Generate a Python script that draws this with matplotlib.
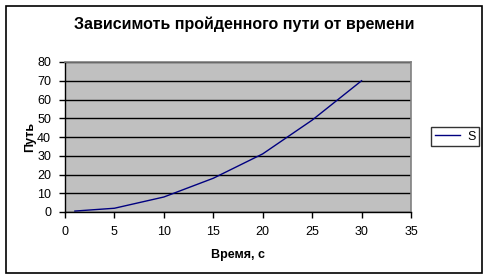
import matplotlib
matplotlib.use("Agg")
import matplotlib.pyplot as plt
from matplotlib.patches import Rectangle

plt.rcParams['font.family'] = ['Liberation Sans', 'DejaVu Sans']

# Time (s) and travelled distance
time_s = [1, 5, 10, 15, 20, 25, 30]
path_s = [0.5, 2, 8, 18, 31, 49, 70]
x_ticks = [0, 5, 10, 15, 20, 25, 30, 35]
y_ticks = [0, 10, 20, 30, 40, 50, 60, 70, 80]

W, H = 489, 279
fig = plt.figure(figsize=(W / 100, H / 100), dpi=100)

# outer chart frame
fig.patches.append(Rectangle((5.5 / W, 1 - 272.5 / H), 477 / W, 266.5 / H,
                             transform=fig.transFigure, fill=False,
                             edgecolor='black', linewidth=1.2))

left, right, top, bottom = 65, 411, 62, 212
ax = fig.add_axes([left / W, 1 - bottom / H, (right - left) / W, (bottom - top) / H])
ax.set_facecolor('#C0C0C0')

ax.plot(time_s, path_s, color='#000080', linewidth=1.0, label='S')

ax.set_xlim(0, 35)
ax.set_ylim(0, 80)
ax.set_xticks(x_ticks)
ax.set_yticks(y_ticks)
ax.yaxis.grid(True, color='black', linewidth=1.0)
ax.set_axisbelow(True)

for s in ('top', 'right'):
    ax.spines[s].set_color('#808080')
    ax.spines[s].set_linewidth(1.2)
for s in ('left', 'bottom'):
    ax.spines[s].set_color('black')
    ax.spines[s].set_linewidth(1.0)

ax.tick_params(direction='out', length=4, width=1, labelsize=9, pad=6)

ax.set_xlabel('Время, с', fontsize=9, fontweight='bold', labelpad=8)
ax.set_ylabel('Путь', fontsize=9, fontweight='bold', labelpad=1)

fig.text(244 / W, 1 - 24 / H, 'Зависимоть пройденного пути от времени',
         ha='center', va='center', fontsize=11.5, fontweight='bold')

leg = ax.legend(loc='center left', bbox_to_anchor=(431 / W, 1 - 136.5 / H),
                bbox_transform=fig.transFigure, frameon=True, fancybox=False,
                fontsize=9, handlelength=2.0, handletextpad=0.6,
                borderpad=0.3, borderaxespad=0)
leg.get_frame().set_edgecolor('black')
leg.get_frame().set_linewidth(1.0)

fig.savefig('out.png', dpi=100)
